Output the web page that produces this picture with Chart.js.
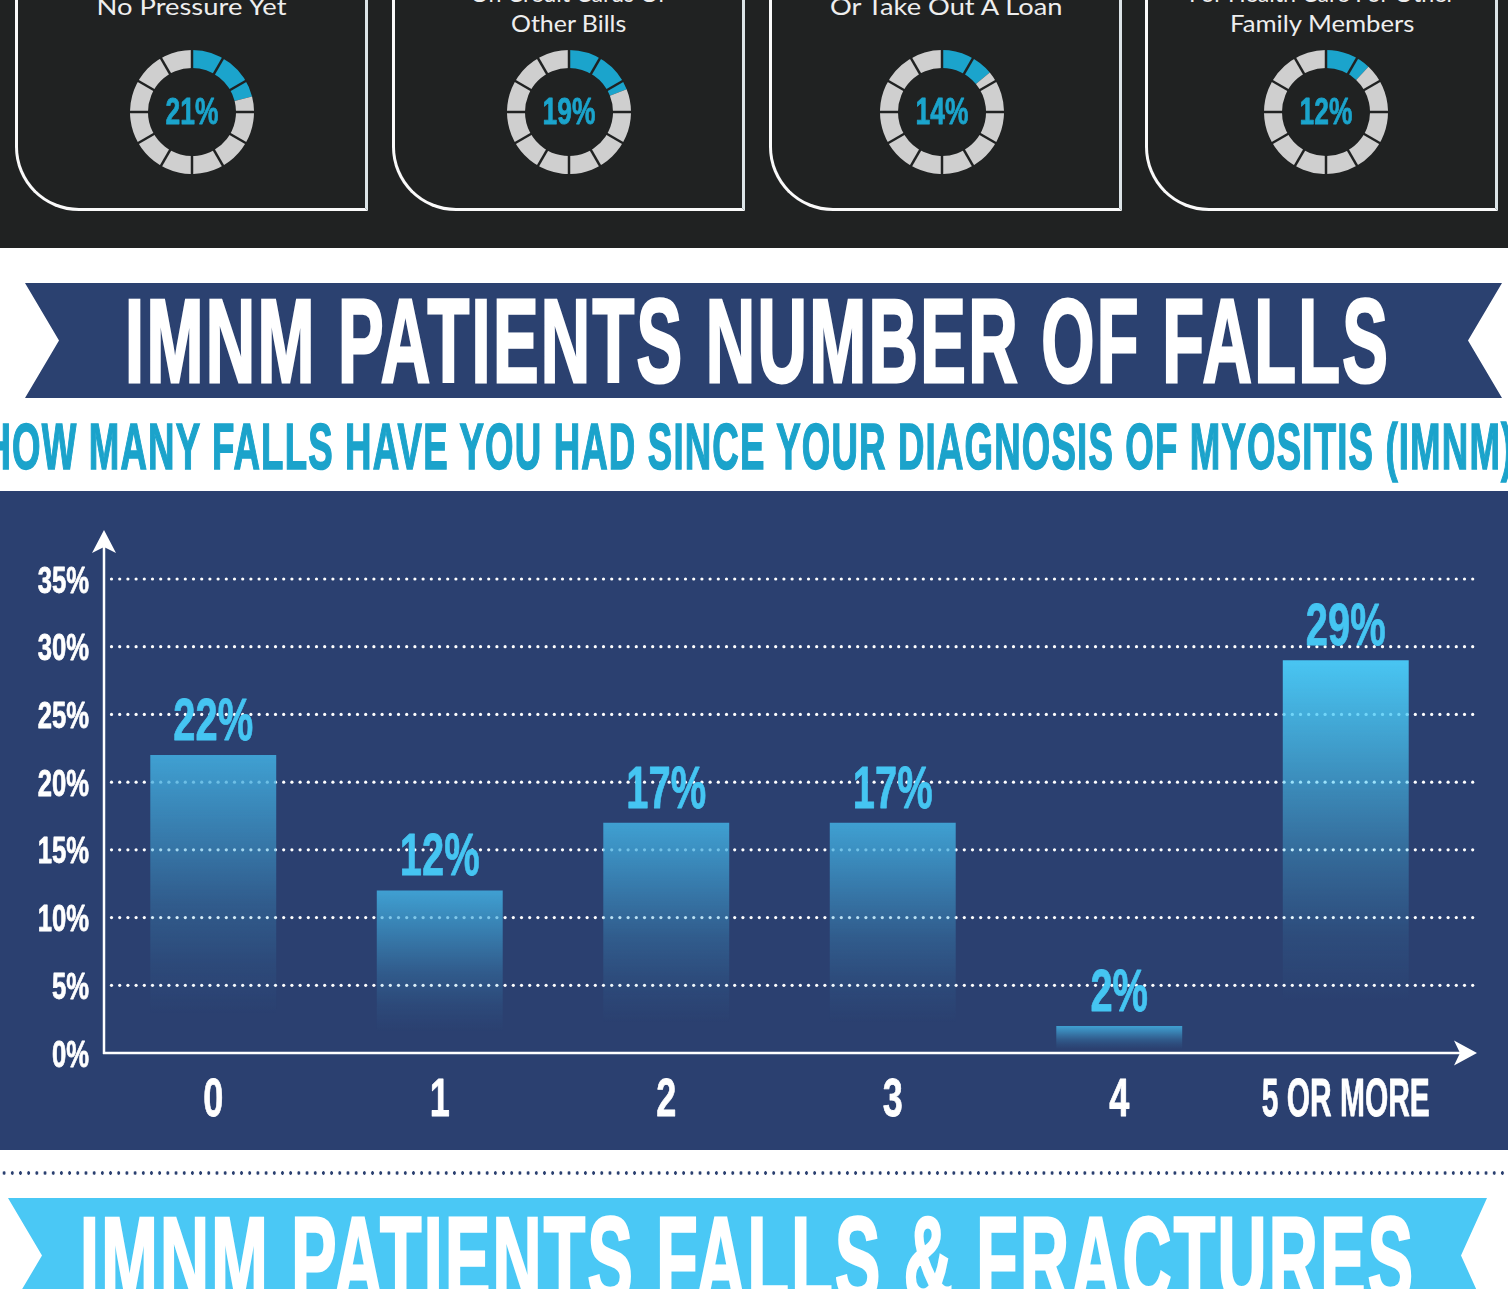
<!DOCTYPE html>
<html>
<head>
<meta charset="utf-8">
<script src="https://cdn.jsdelivr.net/npm/chart.js@4.4.1/dist/chart.umd.min.js"></script>
<style>
  html, body { margin: 0; padding: 0; }
  body { width: 1508px; height: 1289px; position: relative; overflow: hidden; background: #fff; font-family: "Liberation Sans", Arial, sans-serif; }
  .abs { position: absolute; }
  #top { left: 0; top: 0; width: 1508px; height: 248px; background: #202222; }
  .card { position: absolute; top: -30px; width: 353px; height: 241px; box-sizing: border-box;
          border: 3px solid #fafafa; border-top: none; border-right-color: #dce4e7; border-bottom-left-radius: 64px; }
  .cardtxt { font-family: Lato, "Open Sans", sans-serif; font-weight: 400; color: #eeeeee; }
  .head { font-weight: 700; color: #fff; -webkit-text-stroke: 3px #fff; letter-spacing: 4px; }
  #banner1 { left: 25px; top: 283px; width: 1477px; height: 115px; background: #2b4170;
             clip-path: polygon(0 0, 100% 0, calc(100% - 34px) 50%, 100% 100%, 0 100%, 34px 50%); }
  #banner2 { left: 8px; top: 1198px; width: 1479px; height: 115px; background: #4ac8f5;
             clip-path: polygon(0 0, 100% 0, calc(100% - 26px) 50%, 100% 100%, 0 100%, 34px 50%); }
  #sub { color: #1ba3cb; font-weight: 700; -webkit-text-stroke: 1.5px #1ba3cb; letter-spacing: 2px; }
  #chartWrap { left: 0; top: 491px; width: 1508px; height: 659px; background: #2b4070; }
  #dots { left: 0; top: 1171px; width: 1508px; height: 4px;
          background-image: radial-gradient(circle, #2b4070 1.5px, transparent 1.9px); background-size: 8.2px 4px; }
  canvas.donut { position: absolute; }
</style>
</head>
<body>
<div id="top" class="abs"></div>
<div id="banner1" class="abs"></div>
<div id="title1" class="head">IMNM PATIENTS NUMBER OF FALLS</div>
<div id="sub">HOW MANY FALLS HAVE YOU HAD SINCE YOUR DIAGNOSIS OF MYOSITIS (IMNM)</div>
<div id="chartWrap" class="abs"><canvas id="falls"></canvas></div>
<div id="dots" class="abs"></div>
<div id="banner2" class="abs"></div>
<div id="title2" class="head">IMNM PATIENTS FALLS &amp; FRACTURES</div>

<script>
// falls chart
const categories = ['0', '1', '2', '3', '4', '5 OR MORE'];
const fallShares = [22, 12, 17, 17, 2, 29];
const yMax = 35, yStep = 5;

// donut cards above
const cardLines = [
  ['No Pressure Yet'],
  ['On Credit Cards Or', 'Other Bills'],
  ['Or Take Out A Loan'],
  ['For Health Care For Other', 'Family Members']
];
const cardValues = [21, 19, 14, 12];

const CAP = 0.716; // cap height / em for Liberation Sans & Lato

function condText(ctx, text, x, base, cap, squeeze, align, maxW) {
  const size = cap / CAP;
  ctx.save();
  ctx.font = 'bold ' + size + 'px "Liberation Sans", Arial, sans-serif';
  const w = ctx.measureText(text).width;
  let s = squeeze;
  if (maxW && w * s > maxW) s = maxW / w;
  ctx.translate(x, base);
  ctx.scale(s, 1);
  ctx.textAlign = align;
  ctx.textBaseline = 'alphabetic';
  ctx.strokeStyle = ctx.fillStyle;
  ctx.lineWidth = 0.8;
  ctx.lineJoin = 'round';
  ctx.fillText(text, 0, 0);
  ctx.strokeText(text, 0, 0);
  ctx.restore();
}

// put an html text so its baseline sits on `base`, centred on cx, squeezed to width w
function place(el, o) {
  el.style.position = 'absolute';
  el.style.whiteSpace = 'nowrap';
  el.style.lineHeight = '1';
  el.style.left = '0px';
  el.style.top = '0px';
  el.style.fontSize = (o.cap / CAP) + 'px';
  const probe = document.createElement('span');
  probe.style.cssText = 'display:inline-block;width:0;height:0;vertical-align:baseline';
  el.appendChild(probe);
  const bl = probe.offsetTop;
  const w = el.offsetWidth;
  const s = o.w ? o.w / w : (o.s || 1);
  el.style.left = (o.cx - w / 2) + 'px';
  el.style.top = (o.base - bl) + 'px';
  el.style.transformOrigin = 'center';
  el.style.transform = 'scaleX(' + s + ')';
}

function load() {
  // ---- top cards
  const cardLeft = [15, 392, 769, 1145];
  const donutX = [191.5, 568.5, 942, 1325.5];
  const lineW = { 'No Pressure Yet': 190, 'Other Bills': 115, 'Or Take Out A Loan': 232, 'Family Members': 184 };
  cardLines.forEach((lines, i) => {
    const c = document.createElement('div');
    c.className = 'card';
    c.style.left = cardLeft[i] + 'px';
    document.body.appendChild(c);
    const lastBase = lines.length > 1 ? 32 : 15;
    lines.forEach((t, j) => {
      const el = document.createElement('div');
      el.className = 'cardtxt';
      el.textContent = t;
      document.body.appendChild(el);
      place(el, { cx: cardLeft[i] + 176.5, base: lastBase - (lines.length - 1 - j) * 30, cap: 16, w: lineW[t], s: 1.04 });
    });
  });

  const ringCuts = {
    id: 'ringCuts',
    afterDatasetsDraw(chart) {
      const arc = chart.getDatasetMeta(0).data[0];
      const ctx = chart.ctx;
      ctx.save();
      ctx.strokeStyle = '#202222';
      ctx.lineWidth = 2.5;
      for (let k = 0; k < 12; k++) {
        const a = -Math.PI / 2 + k * Math.PI / 6;
        ctx.beginPath();
        ctx.moveTo(arc.x + Math.cos(a) * (arc.innerRadius - 1), arc.y + Math.sin(a) * (arc.innerRadius - 1));
        ctx.lineTo(arc.x + Math.cos(a) * (arc.outerRadius + 1), arc.y + Math.sin(a) * (arc.outerRadius + 1));
        ctx.stroke();
      }
      ctx.fillStyle = '#1ba4cc';
      condText(ctx, chart.data.datasets[0].data[0] + '%', arc.x, arc.y + 11.5, 27, 0.7, 'center');
      ctx.restore();
    }
  };

  cardValues.forEach((v, i) => {
    const cv = document.createElement('canvas');
    cv.className = 'donut';
    cv.width = 124; cv.height = 124;
    cv.style.left = (donutX[i] - 62) + 'px';
    cv.style.top = '50px';
    document.body.appendChild(cv);
    new Chart(cv, {
      type: 'doughnut',
      data: { datasets: [{ data: [v, 100 - v], backgroundColor: ['#1ba4cc', '#cfcfcf'], borderWidth: 0, hoverOffset: 0, offset: 0 }] },
      options: {
        responsive: false, animation: false, events: [], cutout: '71%',
        plugins: { legend: { display: false }, tooltip: { enabled: false } }
      },
      plugins: [ringCuts]
    });
  });

  // ---- headings
  place(document.getElementById('title1'), { cx: 757.5, base: 382, cap: 85, w: 1265 });
  place(document.getElementById('sub'), { cx: 749, base: 468.5, cap: 46, w: 1530 });
  place(document.getElementById('title2'), { cx: 747, base: 1300, cap: 85, w: 1335 });

  // ---- falls bar chart
  const hiVal = Math.max(...fallShares);

  const dotGrid = {
    id: 'dotGrid',
    beforeDatasetsDraw(chart) {
      const ctx = chart.ctx, ys = chart.scales.y;
      ctx.save();
      ctx.fillStyle = '#ffffff';
      ys.ticks.forEach(t => {
        if (t.value === 0) return;
        const y = ys.getPixelForValue(t.value);
        for (let x = 111.5; x <= 1478; x += 8.2) {
          ctx.beginPath();
          ctx.arc(x, y, 1.6, 0, Math.PI * 2);
          ctx.fill();
        }
      });
      ctx.restore();
    }
  };

  const axesAndLabels = {
    id: 'axesAndLabels',
    afterDatasetsDraw(chart) {
      const ctx = chart.ctx, ys = chart.scales.y, xs = chart.scales.x;
      const y0 = ys.getPixelForValue(0);
      const ax = 104;
      ctx.save();
      ctx.strokeStyle = '#ffffff';
      ctx.fillStyle = '#ffffff';
      ctx.lineWidth = 2.5;
      // y axis + arrow
      ctx.beginPath();
      ctx.moveTo(ax, y0 + 1);
      ctx.lineTo(ax, 52);
      ctx.stroke();
      ctx.beginPath();
      ctx.moveTo(ax, 39); ctx.lineTo(ax + 12, 62); ctx.lineTo(ax, 56); ctx.lineTo(ax - 12, 62); ctx.closePath();
      ctx.fill();
      // x axis + arrow
      ctx.beginPath();
      ctx.moveTo(ax - 1, y0);
      ctx.lineTo(1464, y0);
      ctx.stroke();
      ctx.beginPath();
      ctx.moveTo(1477, y0); ctx.lineTo(1454, y0 - 12.5); ctx.lineTo(1460, y0); ctx.lineTo(1454, y0 + 12.5); ctx.closePath();
      ctx.fill();

      // tick labels
      ys.ticks.forEach(t => {
        condText(ctx, t.label, 89, ys.getPixelForValue(t.value) + 13.5, 27, 0.68, 'right');
      });
      // category labels
      categories.forEach((c, i) => {
        condText(ctx, xs.getLabelForValue(i), xs.getPixelForValue(i), y0 + 63, 38, 0.68, 'center', 168);
      });
      // value labels
      ctx.fillStyle = '#45c5f2';
      chart.getDatasetMeta(0).data.forEach((bar, i) => {
        condText(ctx, fallShares[i] + '%', bar.x, bar.y - 15, 42, 0.68, 'center');
      });
      ctx.restore();
    }
  };

  new Chart(document.getElementById('falls'), {
    type: 'bar',
    data: {
      labels: categories,
      datasets: [{
        data: fallShares,
        borderWidth: 0,
        categoryPercentage: 0.556,
        barPercentage: 1,
        backgroundColor(c) {
          const chart = c.chart;
          if (!chart.chartArea || c.type !== 'data') return 'rgba(66,172,222,0.89)';
          const ys = chart.scales.y;
          const top = ys.getPixelForValue(c.raw), base = ys.getPixelForValue(0);
          const hi = c.raw === hiVal;
          const rgb = hi ? '74,202,247' : '66,172,222';
          const g = chart.ctx.createLinearGradient(0, top, 0, base);
          g.addColorStop(0, 'rgba(' + rgb + ',' + (hi ? 0.97 : 0.89) + ')');
          g.addColorStop(0.3, 'rgba(' + rgb + ',' + (hi ? 0.57 : 0.51) + ')');
          g.addColorStop(0.5, 'rgba(' + rgb + ',' + (hi ? 0.3 : 0.26) + ')');
          g.addColorStop(0.7, 'rgba(' + rgb + ',0.09)');
          g.addColorStop(0.87, 'rgba(' + rgb + ',0)');
          return g;
        }
      }]
    },
    options: {
      responsive: true,
      maintainAspectRatio: false,
      animation: false,
      events: [],
      layout: { padding: { left: 100, right: 49, top: 88, bottom: 97 } },
      plugins: { legend: { display: false }, tooltip: { enabled: false } },
      scales: {
        x: { display: false },
        y: {
          display: false,
          min: 0,
          max: yMax,
          ticks: { stepSize: yStep, callback: v => v + '%' }
        }
      }
    },
    plugins: [dotGrid, axesAndLabels]
  });
}

window.onload = (event) => {
  load();
};
</script>
</body>
</html>
